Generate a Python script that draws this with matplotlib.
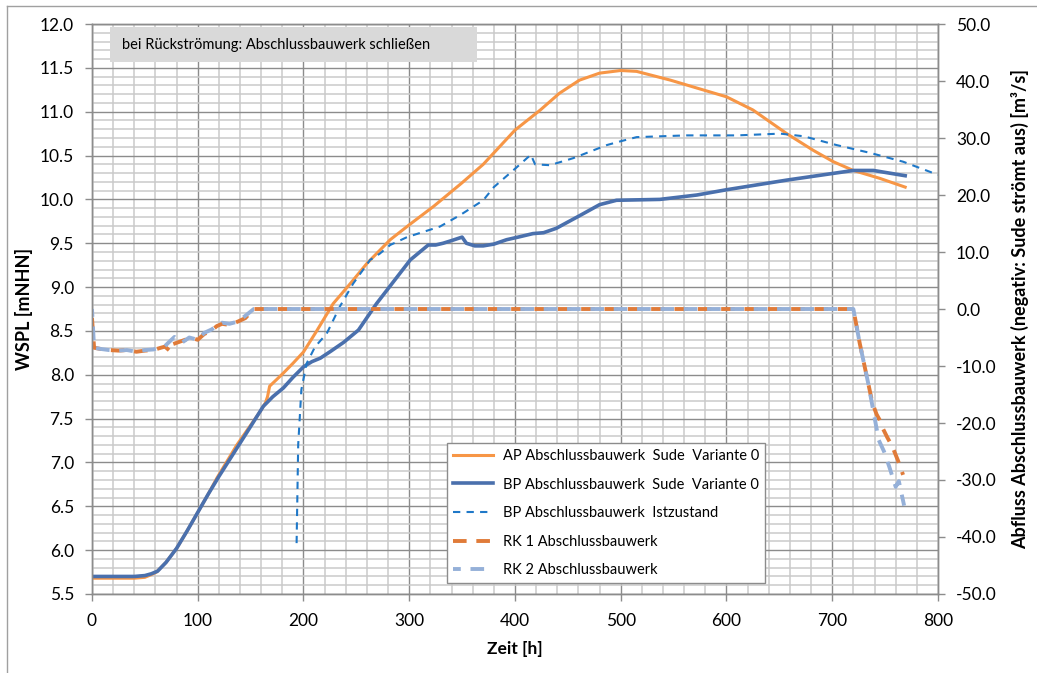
import matplotlib
matplotlib.use("Agg")
import matplotlib.pyplot as plt
from matplotlib.ticker import MultipleLocator, FormatStrFormatter
from matplotlib.lines import Line2D
from matplotlib.patches import Rectangle

plt.rcParams['font.family'] = ['Lato', 'DejaVu Sans']

# AP Abschlussbauwerk Sude Variante 0 (WSPL, left axis)
t_ap = [0, 20, 40, 50, 56, 61, 70, 80, 90, 100, 110, 118, 128, 137, 148, 159, 164, 166, 168, 175,
        181, 190, 200, 212, 228, 245, 260, 282, 300, 323, 350, 370, 400, 424, 442, 461, 480, 500,
        515, 547, 572, 600, 625, 657, 682, 701, 720, 745, 769]
wspl_ap = [5.68, 5.68, 5.68, 5.69, 5.72, 5.75, 5.86, 6.02, 6.22, 6.43, 6.64, 6.82, 7.02, 7.20, 7.39,
           7.58, 7.68, 7.75, 7.87, 7.95, 8.02, 8.13, 8.26, 8.49, 8.81, 9.05, 9.27, 9.54, 9.71, 9.92,
           10.19, 10.40, 10.79, 11.02, 11.21, 11.36, 11.44, 11.47, 11.46, 11.36, 11.27, 11.17, 11.02,
           10.75, 10.56, 10.43, 10.33, 10.24, 10.14]

# BP Abschlussbauwerk Sude Variante 0
t_bp = [0, 20, 40, 50, 56, 62, 70, 80, 90, 100, 110, 120, 130, 140, 150, 162, 171, 181, 190, 200,
        208, 216, 226, 238, 252, 269, 285, 301, 310, 318, 325, 332, 340, 350, 354, 362, 370, 380,
        392, 403, 417, 427, 439, 462, 480, 496, 537, 572, 600, 657, 720, 739, 769]
wspl_bp = [5.70, 5.70, 5.70, 5.71, 5.73, 5.76, 5.86, 6.02, 6.22, 6.43, 6.64, 6.84, 7.03, 7.22, 7.41,
           7.64, 7.75, 7.85, 7.97, 8.09, 8.15, 8.19, 8.27, 8.37, 8.51, 8.81, 9.06, 9.31, 9.40, 9.48,
           9.48, 9.50, 9.53, 9.57, 9.50, 9.47, 9.47, 9.49, 9.54, 9.57, 9.61, 9.62, 9.67, 9.82, 9.94,
           9.99, 10.00, 10.05, 10.11, 10.22, 10.33, 10.33, 10.27]

# BP Abschlussbauwerk Istzustand
t_ist = [193.5, 195, 198, 203, 211, 222, 234.5, 247, 263, 272, 282, 298, 329, 348, 370, 380, 402,
         415, 419, 433, 455, 487, 499, 515, 562, 610, 651, 673, 704, 736, 767, 800]
wspl_ist = [6.08, 7.20, 7.83, 8.13, 8.32, 8.47, 8.78, 9.04, 9.31, 9.38, 9.48, 9.57, 9.69, 9.82, 9.99,
            10.14, 10.37, 10.51, 10.40, 10.39, 10.47, 10.62, 10.66, 10.71, 10.73, 10.73, 10.75,
            10.72, 10.62, 10.53, 10.43, 10.28]

# RK 1 / RK 2 Abschlussbauwerk (Abfluss, right axis)
t_rk1 = [0, 2, 8, 16, 25, 33, 42, 50, 58, 65, 69, 74, 76, 82, 88, 93, 100, 106, 113, 118, 123, 130,
         138, 145, 149, 153, 720, 722, 726, 730, 734, 738, 742, 745, 748, 752, 757, 762, 767]
q_rk1 = [-1.6, -6.8, -7.0, -7.2, -7.3, -7.2, -7.5, -7.3, -7.2, -6.8, -6.6, -7.4, -6.2, -5.8, -5.4,
         -5.0, -5.4, -4.4, -3.8, -3.0, -2.6, -2.8, -2.2, -1.6, -0.8, 0.0, 0.0, -2.0, -6.0, -9.5,
         -13.0, -16.5, -18.5, -19.5, -21.0, -22.5, -24.2, -26.5, -29.1]
t_rk2 = [0, 2, 8, 16, 25, 33, 42, 50, 58, 65, 69, 74, 78, 85, 92, 100, 106, 113, 118, 123, 130,
         138, 145, 149, 153, 720, 722, 726, 730, 734, 738, 741, 744, 749, 754, 760, 763, 768]
q_rk2 = [0.0, -6.8, -7.0, -7.2, -7.3, -7.2, -7.5, -7.2, -7.1, -6.7, -6.5, -5.6, -4.9, -5.9, -5.0,
         -5.4, -4.2, -3.6, -3.0, -2.4, -2.6, -2.2, -1.2, -0.6, 0.0, 0.0, -2.0, -6.0, -9.5, -13.0,
         -17.0, -20.0, -23.0, -25.0, -27.7, -31.2, -30.2, -34.5]

labels = ["AP Abschlussbauwerk  Sude  Variante 0",
          "BP Abschlussbauwerk  Sude  Variante 0",
          "BP Abschlussbauwerk  Istzustand",
          "RK 1 Abschlussbauwerk",
          "RK 2 Abschlussbauwerk"]

fig = plt.figure(figsize=(10.37, 6.73), dpi=100)
ax = fig.add_axes([0.0887, 0.1174, 0.8158, 0.8469])
ax2 = ax.twinx()

l1, = ax.plot(t_ap, wspl_ap, color='#f79646', lw=2.2, label=labels[0])
l2, = ax.plot(t_bp, wspl_bp, color='#4a70ad', lw=2.6, label=labels[1])
l3, = ax.plot(t_ist, wspl_ist, color='#1f78c8', lw=1.5, ls=(0, (3.5, 3)), label=labels[2])
l4, = ax2.plot(t_rk1, q_rk1, color='#e07b39', lw=2.8, ls=(0, (3.5, 2.5)), label=labels[3])
l5, = ax2.plot(t_rk2, q_rk2, color='#95b0d8', lw=2.8, ls=(1.5, (3.5, 2.5)), label=labels[4])

ax.set_xlim(0, 800)
ax.set_ylim(5.5, 12.0)
ax2.set_ylim(-50, 50)

ax.xaxis.set_major_locator(MultipleLocator(100))
ax.xaxis.set_minor_locator(MultipleLocator(20))
ax.yaxis.set_major_locator(MultipleLocator(0.5))
ax.yaxis.set_minor_locator(MultipleLocator(0.1))
ax.yaxis.set_major_formatter(FormatStrFormatter('%.1f'))
ax2.yaxis.set_major_locator(MultipleLocator(10))
ax2.yaxis.set_major_formatter(FormatStrFormatter('%.1f'))

ax.grid(True, which='major', color='#8c8c8c', lw=1.0)
ax.grid(True, which='minor', color='#cacaca', lw=1.1)
ax.set_axisbelow(True)

ax.tick_params(which='major', length=5, width=1, color='#8c8c8c', labelsize=12.5, pad=8)
ax.tick_params(which='minor', length=0)
ax.tick_params(axis='x', pad=9)
ax2.tick_params(which='major', length=5, width=1, color='#8c8c8c', labelsize=12.5, pad=8)

for a in (ax, ax2):
    for s in a.spines.values():
        s.set_color('#8c8c8c')
        s.set_linewidth(1.0)

ax.set_ylabel('WSPL [mNHN]', fontsize=13, fontweight='bold', labelpad=5)
ax.set_xlabel('Zeit [h]', fontsize=12.5, fontweight='bold', labelpad=8)
ax2.set_ylabel('Abfluss Abschlussbauwerk (negativ: Sude strömt aus) [m³/s]',
               fontsize=13, fontweight='bold', labelpad=10)

# note box
ax.add_patch(Rectangle((0.0213, 0.933), 0.434, 0.0617, transform=ax.transAxes,
                       fc='#d9d9d9', ec='none', zorder=3))
ax.text(0.0355, 0.9635, 'bei Rückströmung: Abschlussbauwerk schließen', transform=ax.transAxes,
        fontsize=10.5, va='center', ha='left', zorder=4)

leg = ax2.legend(handles=[l1, l2, l3, l4, l5], loc='lower left', bbox_to_anchor=(0.42, 0.019),
                 borderaxespad=0, fontsize=10.5, frameon=True, fancybox=False, framealpha=1,
                 edgecolor='#8c8c8c', handlelength=2.7, labelspacing=1.0, borderpad=0.4,
                 handletextpad=0.7)
leg.get_frame().set_linewidth(1.0)

# outer chart frame
fig.add_artist(Line2D([0.0068, 0.0068], [0, 0.991], transform=fig.transFigure, color='#a0a0a0', lw=1))
fig.add_artist(Line2D([0.0068, 1.0], [0.991, 0.991], transform=fig.transFigure, color='#a0a0a0', lw=1))

fig.savefig('out.png', dpi=100)
